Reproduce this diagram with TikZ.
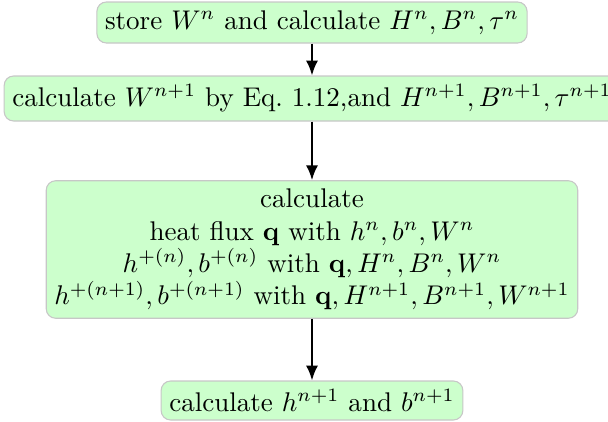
\documentclass[tikz,border=0pt]{standalone}
\usetikzlibrary{arrows.meta}
\begin{document}
\begin{tikzpicture}[x=0.37pt,y=-0.37pt,
  box/.style={draw=black!22, fill=green!20, rounded corners=3.5pt, align=center, inner sep=3pt},
  arr/.style={thick,-{Latex[length=5.5pt,width=4.5pt]}}]
\useasboundingbox (0,0) rectangle (608,421);
\node[box, minimum height=41*0.37pt] (a) at (312,22.5) {store $W^n$ and calculate $H^n, B^n, \tau^n$};
\node[box, minimum height=45*0.37pt] (b) at (312,98.5) {calculate $W^{n+1}$ by Eq.~1.12,and $H^{n+1}, B^{n+1}, \tau^{n+1}$};
\node[box] (c) at (312,249.5) {calculate\\ heat flux $\mathbf{q}$ with $h^n, b^n, W^n$\\ $h^{+(n)}, b^{+(n)}$ with $\mathbf{q}, H^n, B^n, W^n$\\ $h^{+(n+1)}, b^{+(n+1)}$ with $\mathbf{q}, H^{n+1}, B^{n+1}, W^{n+1}$};
\node[box, minimum height=39*0.37pt] (d) at (312,400.5) {calculate $h^{n+1}$ and $b^{n+1}$};
\draw[arr] (a) -- (b);
\draw[arr] (b) -- (c);
\draw[arr] (c) -- (d);
\end{tikzpicture}
\end{document}
